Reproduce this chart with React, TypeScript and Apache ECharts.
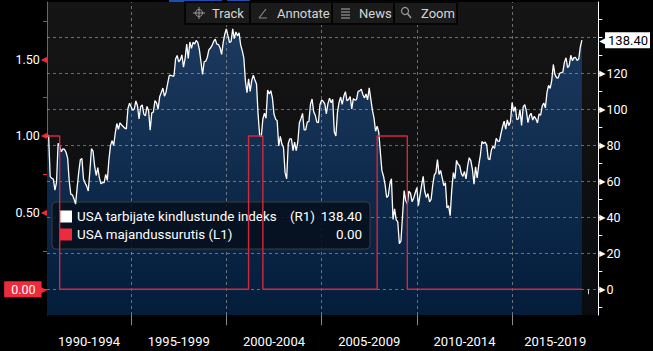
import React, { useEffect, useRef } from "react";
import * as echarts from "echarts";

// First monthly observation: August 1990
const START_YEAR = 1990;
const START_MONTH = 8;

// USA tarbijate kindlustunde indeks (monthly, R1)
const consumerConfidence = [
  84.7, 85.6, 62.6, 61.7, 61.2,
  55.1, 59.4, 81.1, 79.4, 76.4, 78.0, 77.7, 76.1, 72.9, 60.1, 52.7, 52.5,
  50.2, 47.3, 56.5, 65.1, 71.9, 72.6, 61.2, 59.0, 57.3, 54.6, 65.6, 78.1,
  76.7, 68.5, 63.2, 67.6, 61.9, 58.6, 59.2, 59.3, 63.8, 60.5, 71.9, 79.8,
  82.6, 79.9, 86.7, 92.1, 88.9, 92.5, 91.3, 90.4, 89.5, 89.1, 100.4, 103.4,
  101.4, 99.4, 100.2, 104.6, 102.0, 94.6, 101.4, 102.4, 97.3, 96.3, 101.6, 99.2,
  88.4, 98.0, 98.4, 104.8, 103.5, 100.1, 107.0, 109.4, 111.8, 107.3, 109.5, 114.2,
  118.7, 118.9, 118.5, 118.5, 127.9, 129.9, 126.3, 127.6, 130.2, 123.4, 128.1, 136.2,
  128.3, 137.4, 133.8, 137.2, 136.3, 138.2, 137.2, 133.1, 126.4, 119.3, 126.4, 126.7,
  128.9, 133.1, 134.0, 135.5, 137.7, 139.0, 136.2, 136.0, 134.2, 130.5, 137.0, 141.7,
  144.7, 140.8, 137.1, 137.7, 144.7, 139.2, 143.0, 140.8, 142.5, 135.8, 132.6, 128.6,
  115.7, 109.2, 116.9, 109.9, 116.1, 118.9, 116.3, 114.0, 97.0, 85.3, 84.9, 94.6,
  97.8, 95.0, 110.7, 108.5, 110.3, 106.3, 97.4, 94.5, 93.7, 79.6, 84.9, 80.7,
  78.8, 64.8, 61.4, 81.0, 83.6, 83.5, 77.0, 81.7, 77.0, 81.7, 92.5, 94.8,
  97.7, 88.5, 88.5, 93.0, 93.1, 102.8, 105.7, 98.7, 96.7, 92.9, 92.6, 102.7,
  105.1, 104.4, 103.0, 97.5, 103.1, 106.2, 103.6, 105.5, 87.5, 85.2, 98.3, 103.8,
  106.8, 102.7, 107.2, 109.8, 104.7, 105.4, 107.0, 100.2, 105.9, 105.1, 105.3, 110.0,
  110.2, 111.2, 108.2, 106.3, 108.5, 105.3, 111.9, 105.6, 99.5, 95.2, 87.8, 90.6,
  87.3, 76.4, 65.9, 62.8, 58.1, 51.0, 51.9, 58.5, 61.4, 38.8, 44.7, 38.6,
  37.4, 25.3, 26.9, 40.8, 54.8, 49.3, 47.4, 54.5, 53.4, 48.7, 50.6, 53.6,
  56.5, 46.4, 52.3, 57.7, 62.7, 54.3, 51.0, 53.2, 48.6, 49.9, 57.8, 63.4,
  64.8, 72.0, 63.8, 66.0, 61.7, 57.6, 59.2, 45.2, 46.4, 40.9, 55.2, 64.8,
  61.5, 71.6, 69.5, 68.7, 64.4, 62.7, 65.4, 61.3, 68.4, 73.1, 71.5, 66.7,
  58.4, 68.0, 61.9, 69.0, 74.3, 82.1, 81.0, 81.8, 80.2, 72.4, 72.0, 77.5,
  79.4, 78.3, 83.9, 82.3, 82.2, 86.4, 90.3, 93.4, 89.0, 94.1, 91.0, 93.1,
  103.8, 98.8, 101.4, 94.3, 94.6, 99.8, 91.0, 101.3, 102.6, 99.1, 92.6, 96.3,
  97.8, 94.0, 96.1, 94.7, 92.4, 97.4, 96.7, 101.8, 103.5, 100.8, 109.4, 113.3,
  111.6, 116.1, 124.9, 119.4, 117.6, 117.3, 120.0, 120.4, 120.6, 126.2, 128.6, 123.1,
  124.3, 130.0, 127.0, 128.7, 128.8, 127.1, 127.9, 134.7, 138.4,
];

// USA majandussurutis (L1): step changes
const recessionMonths = ["1990-08", "1991-04", "2001-03", "2001-12", "2007-12", "2009-07", "2018-09"];
const recessionFlags = [1, 0, 1, 0, 1, 0, 0];

// Axis labels / ticks
const periodStarts = [1990, 1995, 2000, 2005, 2010, 2015];
const periodLabels = ["1990-1994", "1995-1999", "2000-2004", "2005-2009", "2010-2014", "2015-2019"];
const rightLabelValues = [0, 20, 40, 60, 80, 100, 120];
const rightGridValues = [0, 20, 40, 60, 80, 100, 120, 140];
const rightMinorTicks = [-10, 0, 10, 20, 30, 40, 50, 60, 70, 80, 90, 100, 110, 120, 130, 140, 150];
const leftLabelValues = [0, 0.5, 1.0, 1.5];
const leftMinorTicks = [0, 0.25, 0.5, 0.75, 1.0, 1.25, 1.5, 1.75];

const SERIES_A = "USA tarbijate kindlustunde indeks";
const SERIES_B = "USA majandussurutis";
const TAG_A = "(R1)";
const TAG_B = "(L1)";

const FONT = 'Roboto, "DejaVu Sans", sans-serif';
const RED = "#ee2a3d";

const toYear = (s: string) => {
  const [y, m] = s.split("-").map(Number);
  return y + (m - 1) / 12;
};

export default function App() {
  const ref = useRef<HTMLDivElement>(null);

  useEffect(() => {
    document.body.style.margin = "0";
    document.body.style.background = "#000";
    if (!ref.current) return;
    const chart = echarts.init(ref.current, undefined, { renderer: "svg" });

    const xMin = START_YEAR + (START_MONTH - 1) / 12;
    const xMax = 2019.53;
    const ccData = consumerConfidence.map((v, i) => [START_YEAR + (START_MONTH - 1 + i) / 12, v]);
    const recData = recessionMonths.map((m, i) => [toYear(m), recessionFlags[i]]);
    const lastCC = consumerConfidence[consumerConfidence.length - 1];
    const lastRec = recessionFlags[recessionFlags.length - 1];

    const years: number[] = [];
    for (let y = Math.ceil(xMin); y <= Math.floor(xMax); y++) years.push(y);
    const separators = periodStarts.filter((s) => s > xMin && s < xMax);
    const labelPos = periodStarts.map((s) => (Math.max(s, xMin) + Math.min(s + 5, xMax)) / 2);

    const option: any = {
      animation: false,
      backgroundColor: "#000",
      textStyle: { fontFamily: FONT },
      grid: {
        left: 47,
        right: 51,
        top: 2,
        bottom: 36,
        show: true,
        borderWidth: 0,
        backgroundColor: new echarts.graphic.LinearGradient(0, 0, 0, 1, [
          { offset: 0, color: "#161515" },
          { offset: 1, color: "#090b0f" },
        ]),
      },
      legend: {
        data: [SERIES_A, SERIES_B],
        orient: "vertical",
        left: 52,
        top: 202,
        itemWidth: 12,
        itemHeight: 12,
        itemGap: 5,
        icon: "rect",
        padding: [8, 8, 8, 8],
        backgroundColor: "rgba(6,16,28,0.88)",
        borderColor: "#3c3c3c",
        borderWidth: 1,
        borderRadius: 4,
        selectedMode: false,
        formatter: (name: string) =>
          name === SERIES_A
            ? `{n|${SERIES_A}}{r|${TAG_A}}{v|${lastCC.toFixed(2)}}`
            : `{m|${SERIES_B} ${TAG_B}}{v|${lastRec.toFixed(2)}}`,
        textStyle: {
          color: "#fff",
          fontFamily: FONT,
          fontSize: 13,
          rich: {
            n: { width: 213, color: "#fff", fontSize: 13.4, fontFamily: FONT },
            r: { width: 27, color: "#fff", fontSize: 13.4, fontFamily: FONT },
            m: { width: 240, color: "#fff", fontSize: 13.4, fontFamily: FONT },
            v: { width: 45, align: "right", color: "#fff", fontSize: 13.4, fontFamily: FONT },
          },
        },
      },
      xAxis: [
        {
          type: "value",
          min: xMin,
          max: xMax,
          position: "bottom",
          axisLine: { show: false },
          splitLine: { show: false },
          axisTick: { show: true, customValues: years, length: 5, lineStyle: { color: "#d8d8d8", width: 1 } },
          axisLabel: {
            show: true,
            customValues: labelPos,
            margin: 20,
            color: "#fff",
            fontSize: 13,
            fontFamily: FONT,
            formatter: (v: number) => {
              let best = 0;
              labelPos.forEach((p, i) => {
                if (Math.abs(p - v) < Math.abs(labelPos[best] - v)) best = i;
              });
              return periodLabels[best];
            },
          },
        },
        {
          type: "value",
          min: xMin,
          max: xMax,
          position: "bottom",
          axisLine: { show: false },
          splitLine: { show: false },
          axisLabel: { show: false },
          axisTick: { show: true, customValues: separators, length: 36, lineStyle: { color: "#8a8a8a", width: 1 } },
        },
      ],
      yAxis: [
        {
          type: "value",
          position: "left",
          min: -0.168,
          max: 1.874,
          axisLine: { show: true, lineStyle: { color: RED, width: 1 } },
          splitLine: { show: false },
          axisTick: { show: true, customValues: leftMinorTicks, length: 4, lineStyle: { color: RED } },
          axisLabel: {
            show: true,
            customValues: leftLabelValues,
            margin: 0,
            formatter: (v: number) =>
              Math.abs(v - lastRec) < 1e-9 ? `{box|${v.toFixed(2)}}{bt|▶}` : `{v|${v.toFixed(2)}}{t|◀}`,
            rich: {
              v: { color: "#fff", fontSize: 12.5, fontFamily: FONT, padding: [0, 1, 0, 0] },
              t: { color: RED, fontSize: 8, fontFamily: "DejaVu Sans" },
              box: {
                color: "#fff",
                backgroundColor: RED,
                fontSize: 12.5,
                fontFamily: FONT,
                padding: [2, 6, 1, 7],
              },
              bt: { color: RED, fontSize: 11, fontFamily: "DejaVu Sans", padding: [0, 0, 0, -3] },
            },
          },
        },
        {
          type: "value",
          position: "right",
          min: -14.3,
          max: 159.6,
          axisLine: { show: true, lineStyle: { color: "#fff", width: 1 } },
          splitLine: { show: false },
          axisTick: { show: true, customValues: rightMinorTicks, length: 4, lineStyle: { color: "#fff" } },
          axisLabel: {
            show: true,
            customValues: [...rightLabelValues, lastCC],
            margin: 1,
            formatter: (v: number) =>
              Math.abs(v - lastCC) < 1e-9 ? `{a|◀}{box|${v.toFixed(2)}}` : `{t|▶}{v|${v}}`,
            rich: {
              v: { color: "#fff", fontSize: 12.5, fontFamily: FONT },
              t: { color: "#fff", fontSize: 8, fontFamily: "DejaVu Sans", padding: [0, 1, 0, 0] },
              a: { color: "#fff", fontSize: 10, fontFamily: "DejaVu Sans", padding: [0, -2, 0, 0] },
              box: {
                color: "#000",
                backgroundColor: "#fff",
                fontSize: 13,
                fontFamily: FONT,
                padding: [2, 2, 1, 3],
              },
            },
          },
        },
      ],
      series: [
        {
          name: "area",
          type: "line",
          xAxisIndex: 0,
          yAxisIndex: 1,
          data: ccData,
          symbol: "none",
          silent: true,
          z: 2,
          lineStyle: { width: 0, color: "#ffffff" },
          areaStyle: {
            origin: "start",
            opacity: 1,
            color: new echarts.graphic.LinearGradient(0, 0, 0, 1, [
              { offset: 0, color: "#1c3a5f" },
              { offset: 1, color: "#031d3b" },
            ]),
          },
          markLine: {
            silent: true,
            symbol: "none",
            z: 3,
            label: { show: false },
            lineStyle: { color: "rgba(170,170,170,0.6)", type: [3, 3], width: 1 },
            data: [
              ...rightGridValues.map((v) => ({ yAxis: v })),
              ...separators.map((v) => ({ xAxis: v })),
            ],
          },
        },
        {
          name: SERIES_A,
          type: "line",
          xAxisIndex: 0,
          yAxisIndex: 1,
          data: ccData,
          symbol: "none",
          z: 6,
          color: "#ffffff",
          lineStyle: { width: 1.3, color: "#ffffff" },
        },
        {
          name: SERIES_B,
          type: "line",
          xAxisIndex: 0,
          yAxisIndex: 0,
          data: recData,
          step: "end",
          symbol: "none",
          z: 7,
          color: RED,
          lineStyle: { width: 1.4, color: "#d8263a" },
        },
      ],
      graphic: [
        { type: "rect", shape: { x: 169, y: 0, width: 53, height: 2 }, style: { fill: "#1d4fb3" }, z: 100 },
        { type: "rect", shape: { x: 227, y: 0, width: 23, height: 2 }, style: { fill: "#1d4fb3" }, z: 100 },
        {
          type: "rect",
          shape: { x: 185, y: 2, width: 272, height: 22 },
          style: { fill: "#1b1b1b", stroke: "#050505", lineWidth: 2 },
          z: 100,
        },
        { type: "line", shape: { x1: 250, y1: 3, x2: 250, y2: 23 }, style: { stroke: "#050505", lineWidth: 2 }, z: 101 },
        { type: "line", shape: { x1: 332, y1: 3, x2: 332, y2: 23 }, style: { stroke: "#050505", lineWidth: 2 }, z: 101 },
        { type: "line", shape: { x1: 394, y1: 3, x2: 394, y2: 23 }, style: { stroke: "#050505", lineWidth: 2 }, z: 101 },
        // Track icon
        { type: "circle", shape: { cx: 199, cy: 13, r: 3.5 }, style: { fill: "none", stroke: "#9a9a9a", lineWidth: 1 }, z: 101 },
        { type: "line", shape: { x1: 193, y1: 13, x2: 205, y2: 13 }, style: { stroke: "#9a9a9a", lineWidth: 1 }, z: 101 },
        { type: "line", shape: { x1: 199, y1: 7, x2: 199, y2: 19 }, style: { stroke: "#9a9a9a", lineWidth: 1 }, z: 101 },
        { type: "text", x: 212, y: 13, style: { text: "Track", fill: "#d6d6d6", font: `13px ${FONT}`, verticalAlign: "middle" }, z: 101 },
        // Annotate icon
        { type: "line", shape: { x1: 259, y1: 18, x2: 266, y2: 9 }, style: { stroke: "#8a8a8a", lineWidth: 1.2 }, z: 101 },
        { type: "line", shape: { x1: 259, y1: 18, x2: 267, y2: 18 }, style: { stroke: "#8a8a8a", lineWidth: 1 }, z: 101 },
        { type: "text", x: 277, y: 13, style: { text: "Annotate", fill: "#d6d6d6", font: `13px ${FONT}`, verticalAlign: "middle" }, z: 101 },
        // News icon
        { type: "line", shape: { x1: 341, y1: 9, x2: 350, y2: 9 }, style: { stroke: "#9a9a9a", lineWidth: 1.2 }, z: 101 },
        { type: "line", shape: { x1: 341, y1: 12, x2: 350, y2: 12 }, style: { stroke: "#9a9a9a", lineWidth: 1.2 }, z: 101 },
        { type: "line", shape: { x1: 341, y1: 15, x2: 350, y2: 15 }, style: { stroke: "#9a9a9a", lineWidth: 1.2 }, z: 101 },
        { type: "line", shape: { x1: 341, y1: 18, x2: 350, y2: 18 }, style: { stroke: "#9a9a9a", lineWidth: 1.2 }, z: 101 },
        { type: "text", x: 359, y: 13, style: { text: "News", fill: "#d6d6d6", font: `13px ${FONT}`, verticalAlign: "middle" }, z: 101 },
        // Zoom icon
        { type: "circle", shape: { cx: 405, cy: 11, r: 3.5 }, style: { fill: "none", stroke: "#9a9a9a", lineWidth: 1.2 }, z: 101 },
        { type: "line", shape: { x1: 407.5, y1: 13.5, x2: 411, y2: 18 }, style: { stroke: "#9a9a9a", lineWidth: 1.5 }, z: 101 },
        { type: "text", x: 421, y: 13, style: { text: "Zoom", fill: "#d6d6d6", font: `13px ${FONT}`, verticalAlign: "middle" }, z: 101 },
      ],
    };

    chart.setOption(option);
    return () => chart.dispose();
  }, []);

  return <div ref={ref} style={{ width: 653, height: 351 }} />;
}
